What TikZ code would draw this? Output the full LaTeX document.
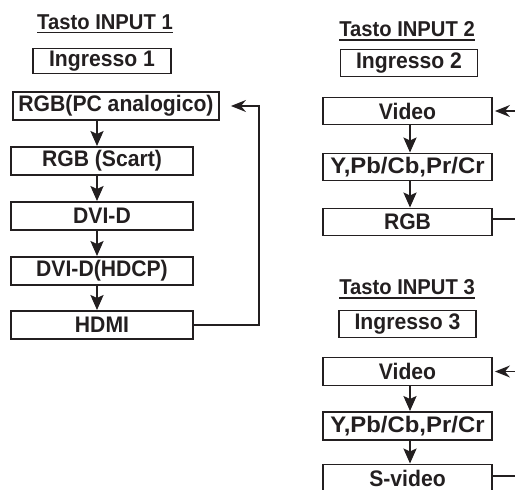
\documentclass[tikz,border=0pt]{standalone}
\usepackage{fontspec}
\setmainfont{Liberation Sans}
\newfontfamily\boxfont[FakeStretch=0.94]{Liberation Sans}
\usetikzlibrary{arrows.meta}
\definecolor{ink}{HTML}{231F20}
\begin{document}
\begin{tikzpicture}[x=1pt,y=-1pt,
  every node/.style={text=ink},
  box/.style={draw=ink, line width=1.9pt, minimum height=27pt, inner sep=0pt,
    font=\boxfont\bfseries\fontsize{22.5}{26}\selectfont},
  title/.style={inner sep=0pt, font=\boxfont\bfseries\fontsize{21.5}{25}\selectfont},
  uline/.style={draw=ink, line width=1.4pt},
  varrow/.style={draw=ink, line width=2.4pt, -{Stealth[length=15pt,width=13pt,inset=3pt]}},
  fbarrow/.style={draw=ink, line width=1.4pt, -{Stealth[length=15pt,width=12pt,inset=5pt]}},
  fbline/.style={draw=ink, line width=1.4pt}]
\useasboundingbox (0,0) rectangle (515,490);

% ---- left column
\node[title] (t1) at (105,22) {Tasto INPUT 1};
\draw[uline] ([yshift=-3.5pt]t1.base west) -- ([yshift=-3.5pt]t1.base east);
\node[box, minimum width=138pt, minimum height=25pt] (ing1) at (102,61) {Ingresso 1};
\node[box, minimum width=206pt, minimum height=28pt] (pc) at (116,106) {RGB(PC analogico)};
\node[box, minimum width=182pt, minimum height=28pt] (scart) at (102,161) {RGB (Scart)};
\node[box, minimum width=182pt, minimum height=28pt] (dvid) at (102,216) {DVI-D};
\node[box, minimum width=182pt, minimum height=28pt] (hdcp) at (102,271) {DVI-D(HDCP)};
\node[box, minimum width=182pt, minimum height=28pt] (hdmi) at (102,325) {HDMI};

\draw[varrow] ([xshift=-19pt]pc.south) -- ([xshift=-5pt]scart.north);
\draw[varrow] ([xshift=-5pt]scart.south) -- ([xshift=-5pt]dvid.north);
\draw[varrow] ([xshift=-5pt]dvid.south) -- ([xshift=-5pt]hdcp.north);
\draw[varrow] ([xshift=-5pt]hdcp.south) -- ([xshift=-5pt]hdmi.north);
\draw[fbarrow] (hdmi.east) -- ++(65,0) |- ([xshift=11pt]pc.east);

% ---- right column, top
\node[title] (t2) at (407,29) {Tasto INPUT 2};
\draw[uline] ([yshift=-3.5pt]t2.base west) -- ([yshift=-3.5pt]t2.base east);
\node[box, minimum width=137pt] (ing2) at (409,63) {Ingresso 2};
\node[box, minimum width=169pt] (v2) at (407.5,111) {Video};
\node[box, minimum width=169pt] (y2) at (407.5,167) {\scalebox{1.13}[1]{Y,Pb/Cb,Pr/Cr}};
\node[box, minimum width=169pt] (rgb2) at (407.5,222) {RGB};
\draw[varrow] ([xshift=2.5pt]v2.south) -- ([xshift=2.5pt]y2.north);
\draw[varrow] ([xshift=2.5pt]y2.south) -- ([xshift=2.5pt]rgb2.north);
\coordinate (in2) at (515,111);
\coordinate (out2) at (515,219);
\draw[fbarrow] (in2) -- ([xshift=2pt]v2.east);
\draw[fbline] (rgb2.east |- out2) -- (out2);

% ---- right column, bottom
\node[title] (t3) at (407,287) {Tasto INPUT 3};
\draw[uline] ([yshift=-3.5pt]t3.base west) -- ([yshift=-3.5pt]t3.base east);
\node[box, minimum width=137pt] (ing3) at (407.5,324) {Ingresso 3};
\node[box, minimum width=169pt, minimum height=28pt] (v3) at (407.5,371.5) {Video};
\node[box, minimum width=169pt, minimum height=28pt] (y3) at (407.5,426) {\scalebox{1.13}[1]{Y,Pb/Cb,Pr/Cr}};
\node[box, minimum width=169pt, minimum height=28pt] (sv) at (407.5,478.5) {S-video};
\draw[varrow] ([xshift=2.5pt]v3.south) -- ([xshift=2.5pt]y3.north);
\draw[varrow] ([xshift=2.5pt]y3.south) -- ([xshift=2.5pt]sv.north);
\coordinate (in3) at (515,371.5);
\coordinate (out3) at (515,476);
\draw[fbarrow] (in3) -- ([xshift=2pt]v3.east);
\draw[fbline] (sv.east |- out3) -- (out3);
\end{tikzpicture}
\end{document}
